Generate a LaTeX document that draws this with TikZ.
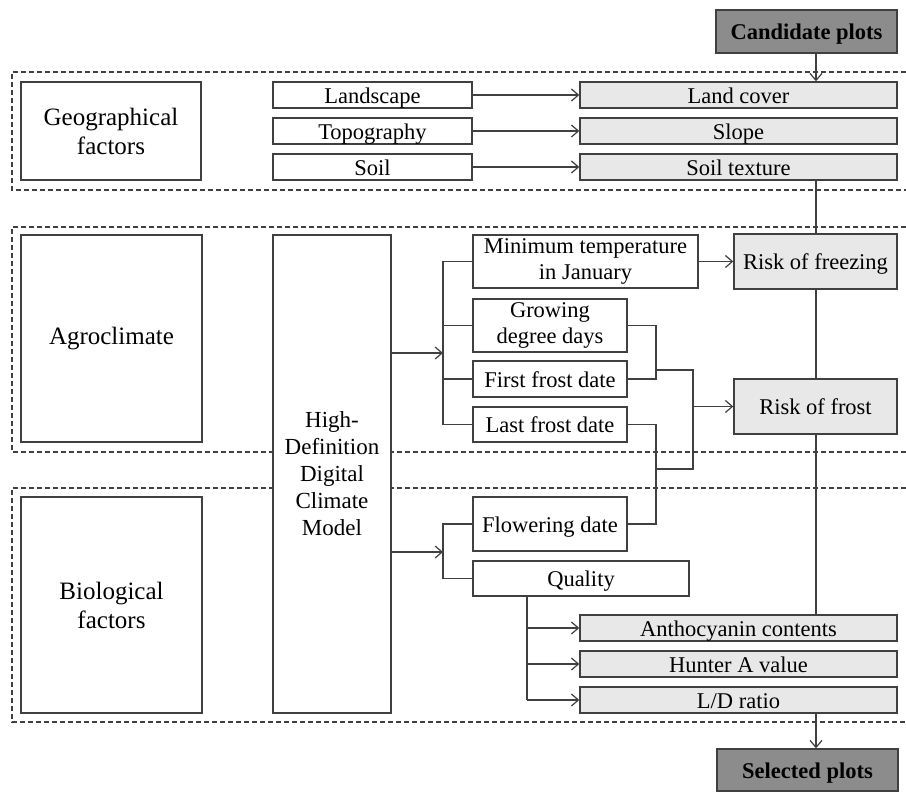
\documentclass[tikz,border=0pt]{standalone}
\usepackage{fontspec}
\setmainfont{Liberation Serif}
\usetikzlibrary{arrows.meta}
\definecolor{linec}{RGB}{64,64,64}
\definecolor{lightf}{RGB}{232,232,232}
\definecolor{darkf}{RGB}{140,140,140}
\begin{document}
\begin{tikzpicture}[x=1pt,y=-1pt,
  box/.style={draw=linec, line width=1.4pt, fill=white, inner sep=0pt, align=center,
    font=\fontsize{22.5}{26}\selectfont},
  one/.style={text height=17pt, text depth=1pt},
  lbox/.style={box, fill=lightf},
  dbox/.style={box, fill=darkf, font=\fontsize{22.5}{26}\selectfont\bfseries},
  catbox/.style={box, font=\fontsize{25}{29}\selectfont},
  hdbox/.style={box, font=\fontsize{23}{27}\selectfont},
  conn/.style={draw=linec, line width=1.2pt},
  arr/.style={conn, -{Straight Barb[length=7pt,width=12pt,line width=1.2pt]}},
  grp/.style={draw=linec, line width=1.1pt, dash pattern=on 5pt off 3pt}
]
\useasboundingbox (0,0) rectangle (906,793);
% dashed group frames
\draw[grp] (906,72) -- (12,72) -- (12,190) -- (906,190);
\draw[grp] (906,227) -- (12,227) -- (12,452) -- (906,452);
\draw[grp] (906,488) -- (12,488) -- (12,722) -- (906,722);

% nodes
\node[dbox, one, minimum width=181pt, minimum height=43pt] (cand) at (806.5,31.5) {Candidate plots};
\node[catbox, minimum width=180pt, minimum height=98pt] (geo) at (111,131) {Geographical\\factors};
\node[box, one, minimum width=199pt, minimum height=26pt] (landscape) at (372.5,95) {Landscape};
\node[box, one, minimum width=199pt, minimum height=26pt] (topo) at (372.5,131) {Topography};
\node[box, one, minimum width=199pt, minimum height=26pt] (soil) at (372.5,167) {Soil};
\node[lbox, one, minimum width=317pt, minimum height=26pt] (landcover) at (738.5,95) {Land cover};
\node[lbox, one, minimum width=317pt, minimum height=26pt] (slope) at (738.5,131) {Slope};
\node[lbox, one, minimum width=317pt, minimum height=26pt] (soiltex) at (738.5,167) {Soil texture};

\node[catbox, minimum width=181pt, minimum height=207pt] (agro) at (111.5,338.5) {Agroclimate};
\node[catbox, minimum width=181pt, minimum height=216pt] (bio) at (111.5,605) {Biological\\factors};
\node[hdbox, minimum width=118pt, minimum height=478pt] (hd) at (332,474) {High-\\Definition\\Digital\\Climate\\Model};

\node[box, minimum width=225pt, minimum height=53pt] (mintemp) at (585.5,261.5) {Minimum temperature\\in January};
\node[box, minimum width=154pt, minimum height=53pt] (gdd) at (550,325.5) {Growing\\degree days};
\node[box, one, minimum width=154pt, minimum height=36pt] (first) at (550,379) {First frost date};
\node[box, one, minimum width=154pt, minimum height=35pt] (last) at (550,424.5) {Last frost date};
\node[lbox, one, minimum width=163pt, minimum height=55pt] (freeze) at (815.5,261.5) {Risk of freezing};
\node[lbox, one, minimum width=163pt, minimum height=55pt] (frost) at (815.5,406.5) {Risk of frost};

\node[box, one, minimum width=154pt, minimum height=54pt] (flower) at (550,524) {Flowering date};
\node[box, one, minimum width=216pt, minimum height=35pt] (quality) at (581,578.5) {Quality};
\node[lbox, one, minimum width=317pt, minimum height=26pt] (antho) at (738.5,628) {Anthocyanin contents};
\node[lbox, one, minimum width=317pt, minimum height=26pt] (hunter) at (738.5,664) {Hunter A value};
\node[lbox, one, minimum width=317pt, minimum height=26pt] (ld) at (738.5,700) {L/D ratio};
\node[dbox, one, minimum width=181pt, minimum height=42pt] (sel) at (807.5,770) {Selected plots};

% helper coordinates
\coordinate (sp) at (816,0);
\coordinate (b1) at (443,0);
\coordinate (j1) at (656,0);
\coordinate (j2) at (693,0);
\coordinate (q1) at (527,0);

% geographical arrows
\draw[arr] (landscape.east) -- (landcover.west);
\draw[arr] (topo.east) -- (slope.west);
\draw[arr] (soil.east) -- (soiltex.west);
\draw[arr] (cand.south -| sp) -- (landcover.north -| sp);

% main spine
\draw[conn] (soiltex.south -| sp) -- (freeze.north -| sp);
\draw[conn] (freeze.south -| sp) -- (frost.north -| sp);
\draw[conn] (frost.south -| sp) -- (antho.north -| sp);
\draw[arr] (ld.south -| sp) -- (sel.north -| sp);

% agroclimate bracket
\draw[arr] (hd.east |- 0,353) -- (b1 |- 0,353);
\draw[conn] (mintemp.west) -| (b1 |- last.west) -- (last.west);
\draw[conn] (b1 |- gdd.west) -- (gdd.west);
\draw[conn] (b1 |- first.west) -- (first.west);
\draw[arr] (mintemp.east) -- (freeze.west);

% biological bracket
\draw[arr] (hd.east |- 0,552) -- (b1 |- 0,552);
\draw[conn] (flower.west) -| (b1 |- quality.west) -- (quality.west);

% frost combination
\draw[conn] (gdd.east) -| (j1 |- first.east) -- (first.east);
\draw[conn] (last.east) -| (j1 |- flower.east) -- (flower.east);
\draw[conn] (j1 |- 0,370) -| (j2 |- 0,469) -- (j1 |- 0,469);
\draw[arr] (j2 |- frost.west) -- (frost.west);

% quality
\draw[conn] (quality.south -| q1) -- (q1 |- ld.west);
\draw[arr] (q1 |- antho.west) -- (antho.west);
\draw[arr] (q1 |- hunter.west) -- (hunter.west);
\draw[arr] (q1 |- ld.west) -- (ld.west);
\end{tikzpicture}
\end{document}
